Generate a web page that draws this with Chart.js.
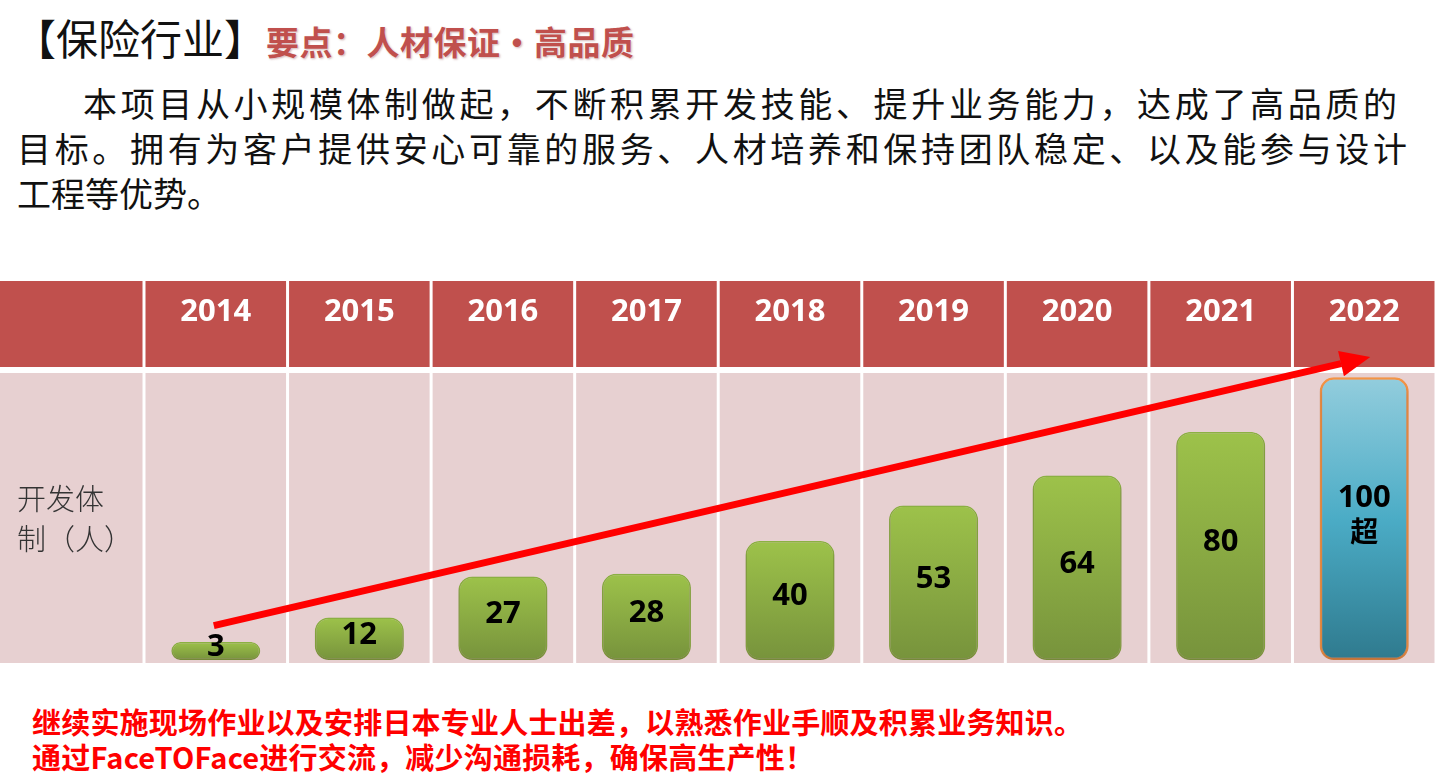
<!DOCTYPE html>
<html>
<head>
<meta charset="utf-8">
<script src="https://cdn.jsdelivr.net/npm/chart.js@4"></script>
<style>
  body { margin: 0; background: #fff; width: 1439px; height: 783px; overflow: hidden; position: relative;
         font-family: "Noto Sans CJK SC", "Noto Sans", sans-serif; }
  .abs { position: absolute; white-space: nowrap; }
  #title { left: 14px; top: 10px; font-size: 42px; line-height: 54px; color: #111; }
  #title .key { color: #c0504d; font-weight: bold; font-size: 33px; letter-spacing: 0.5px;
                text-shadow: 0 0 1px #fff, 1px 1px 2px rgba(120,40,40,0.35); }
  .para { font-size: 34px; line-height: 45px; color: #111; text-align: justify; text-align-last: justify; }
  #chartBox { position: absolute; left: 0; top: 281px; width: 1439px; height: 382px; }
  #rowLabel { left: 17px; top: 477px; font-size: 29px; line-height: 40px; color: #333; font-weight: 300; }
  #notes { left: 32px; top: 704px; font-size: 29px; line-height: 35px; color: #ff0000; font-weight: bold; letter-spacing: 0.2px; }
</style>
</head>
<body>
<div id="title" class="abs">【保险行业】<span class="key">要点：人材保证・高品质</span></div>
<div class="abs para" style="left:83px; top:80px; width:1314px;">本项目从小规模体制做起，不断积累开发技能、提升业务能力，达成了高品质的</div>
<div class="abs para" style="left:17px; top:125px; width:1390px;">目标。拥有为客户提供安心可靠的服务、人材培养和保持团队稳定、以及能参与设计</div>
<div class="abs para" style="left:17px; top:170px; text-align-last:auto;">工程等优势。</div>

<div id="chartBox"><canvas id="teamChart"></canvas></div>
<div id="rowLabel" class="abs">开发体<br>制（人）</div>

<div id="notes" class="abs">继续实施现场作业以及安排日本专业人士出差，以熟悉作业手顺及积累业务知识。<br>通过FaceTOFace进行交流，减少沟通损耗，确保高生产性！</div>

<script>
// Data
const years = ['2014', '2015', '2016', '2017', '2018', '2019', '2020', '2021', '2022'];
const headcount = [3, 12, 27, 28, 40, 53, 64, 80, 100];
const headcountNote = ['', '', '', '', '', '', '', '', '超'];
const trendFrom = 9;     // arrow start (people)
const trendTo = 107.5;   // arrow tip (people)

const Y_MIN = -3.6;
const HEADER_H = 86;
const ROW_GAP = 6;

// Colours
const HEAD_RED = '#c0504d';
const CELL_PINK = '#e7d0d1';

// Table background: header cells + body cells, laid out on the x scale
const tablePlugin = {
    id: 'tableBg',
    beforeDraw(chart) {
        const { ctx, chartArea, scales } = chart;
        const x = scales.x;
        const colW = x.width / years.length;
        ctx.save();
        // first (label) column
        ctx.fillStyle = HEAD_RED;
        ctx.fillRect(0, 0, chartArea.left - 1.5, HEADER_H);
        ctx.fillStyle = CELL_PINK;
        ctx.fillRect(0, HEADER_H + ROW_GAP, chartArea.left - 1.5, chart.height - HEADER_H - ROW_GAP);
        years.forEach((y, i) => {
            const cx = x.getPixelForTick(i);
            ctx.fillStyle = HEAD_RED;
            ctx.fillRect(cx - colW / 2 + 1.5, 0, colW - 3, HEADER_H);
            ctx.fillStyle = CELL_PINK;
            ctx.fillRect(cx - colW / 2 + 1.5, HEADER_H + ROW_GAP, colW - 3, chart.height - HEADER_H - ROW_GAP);
        });
        ctx.restore();
    },
    beforeDatasetsDraw(chart) {
        const ctx = chart.ctx;
        ctx.save();
        ctx.shadowColor = 'rgba(60,30,30,0.35)';
        ctx.shadowBlur = 6;
        ctx.shadowOffsetY = 4;
    },
    afterDatasetsDraw(chart) {
        const ctx = chart.ctx;
        ctx.restore();
        // value labels inside bars
        const meta = chart.getDatasetMeta(0);
        const numFont = 'bold 31px "Open Sans", sans-serif';
        ctx.save();
        ctx.fillStyle = '#000';
        ctx.font = numFont;
        ctx.textAlign = 'center';
        ctx.textBaseline = 'middle';
        meta.data.forEach((bar, i) => {
            const mid = (bar.y + bar.base) / 2 - 4;
            if (headcountNote[i]) {
                ctx.fillText(String(headcount[i]), bar.x, mid - 17);
                ctx.font = 'bold 28px "Noto Sans CJK SC", sans-serif';
                ctx.fillText(headcountNote[i], bar.x, mid + 17);
                ctx.font = numFont;
            } else {
                ctx.fillText(String(headcount[i]), bar.x, mid);
            }
        });
        ctx.restore();
    },
    afterDraw(chart) {
        // growth arrow
        const { ctx, scales } = chart;
        const x0 = scales.x.getPixelForTick(0) - 2;
        const y0 = scales.y.getPixelForValue(trendFrom);
        const x1 = scales.x.getPixelForTick(years.length - 1) + 6;
        const y1 = scales.y.getPixelForValue(trendTo);
        const ang = Math.atan2(y1 - y0, x1 - x0);
        const headLen = 30, headW = 13;
        const bx = x1 - headLen * Math.cos(ang);
        const by = y1 - headLen * Math.sin(ang);
        ctx.save();
        ctx.strokeStyle = '#ff0000';
        ctx.fillStyle = '#ff0000';
        ctx.lineWidth = 7;
        ctx.beginPath();
        ctx.moveTo(x0, y0);
        ctx.lineTo(bx, by);
        ctx.stroke();
        ctx.beginPath();
        ctx.moveTo(x1, y1);
        ctx.lineTo(bx + headW * Math.sin(ang), by - headW * Math.cos(ang));
        ctx.lineTo(bx - headW * Math.sin(ang), by + headW * Math.cos(ang));
        ctx.closePath();
        ctx.fill();
        ctx.restore();
    }
};

function barFill(context) {
    const chart = context.chart;
    const { scales, chartArea } = chart;
    if (!chartArea) return '#9bbb59';
    const i = context.dataIndex;
    const top = scales.y.getPixelForValue(headcount[i]);
    const bottom = scales.y.getPixelForValue(Y_MIN);
    const g = chart.ctx.createLinearGradient(0, top, 0, bottom);
    if (i === headcount.length - 1) {
        g.addColorStop(0, '#93cddd');
        g.addColorStop(0.5, '#4bacc6');
        g.addColorStop(1, '#2f7a8e');
    } else {
        g.addColorStop(0, '#9dc24a');
        g.addColorStop(1, '#77933c');
    }
    return g;
}

document.addEventListener('DOMContentLoaded', () => {
    const ctx = document.getElementById('teamChart').getContext('2d');
    new Chart(ctx, {
        type: 'bar',
        data: {
            labels: years,
            datasets: [{
                data: headcount,
                base: Y_MIN,
                backgroundColor: barFill,
                borderColor: headcount.map((v, i) => i === headcount.length - 1 ? '#f79646' : '#8db443'),
                borderWidth: headcount.map((v, i) => i === headcount.length - 1 ? 2.5 : 1.5),
                borderRadius: 14,
                borderSkipped: false,
                barPercentage: 0.62,
                categoryPercentage: 1
            }]
        },
        options: {
            responsive: true,
            maintainAspectRatio: false,
            animation: false,
            layout: { padding: { left: 144, right: 3, top: 0, bottom: 3 } },
            plugins: { legend: { display: false }, tooltip: { enabled: false } },
            scales: {
                x: {
                    position: 'top',
                    grid: { display: false },
                    border: { display: false },
                    ticks: { color: '#fff', font: { family: '"Open Sans", sans-serif', size: 31, weight: 'bold' }, padding: 34 },
                    afterFit(scale) { scale.height = HEADER_H + ROW_GAP; }
                },
                y: { display: false, min: Y_MIN, max: 101.6 }
            }
        },
        plugins: [tablePlugin]
    });
});
</script>
</body>
</html>
